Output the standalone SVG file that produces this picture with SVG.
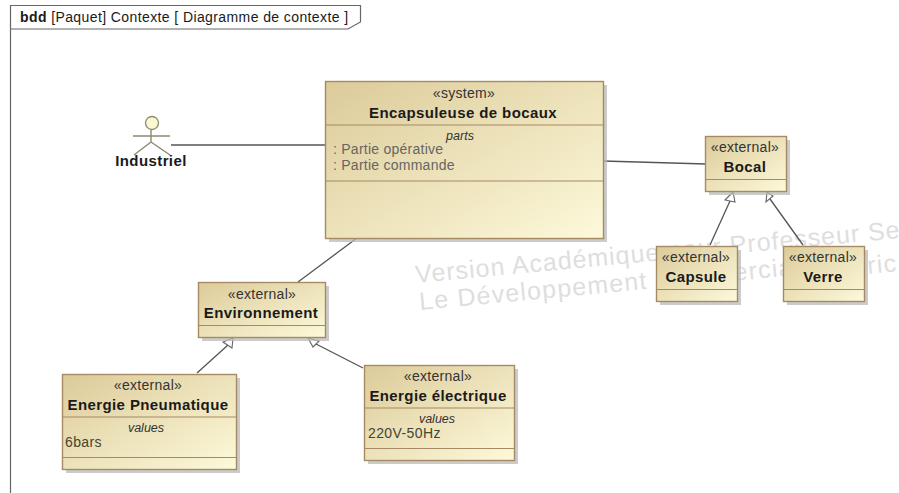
<svg xmlns="http://www.w3.org/2000/svg" width="899" height="493" viewBox="0 0 899 493">
<style>
text{font-family:"Liberation Sans",Arial,sans-serif;fill:#1a1a1a}
.box{fill:url(#g);stroke:#a58a64;stroke-width:1.4}
.sh{fill:#b9b9b9;opacity:.75}
.sep{stroke:#a58a64;stroke-width:1.2;fill:none}
.st{font-size:14px;letter-spacing:.3px;text-anchor:middle;fill:#333}
.nm{font-size:15px;letter-spacing:.4px;font-weight:bold;text-anchor:middle}
.cm{font-size:12.500px;font-style:italic;text-anchor:middle;fill:#333}
.it{font-size:14px;letter-spacing:.25px;fill:#666}
.it2{font-size:14px;letter-spacing:.4px;fill:#443}
.ln{stroke:#555;stroke-width:1.3;fill:none}
.wm{font-size:25px;fill:#dedede;letter-spacing:1.2px}
.ar{fill:#fff;stroke:#666;stroke-width:1.1}
.act{stroke:#8a8a70;stroke-width:1.4;fill:none}
</style>
<defs>
<linearGradient id="g" x1="0" y1="0" x2="1" y2="1">
<stop offset="0" stop-color="#dccb9a"/><stop offset="1" stop-color="#fdf9da"/>
</linearGradient>
</defs>
<rect width="899" height="493" fill="#fff"/>
<g id="frame">
<path d="M10.500 493V5.500H360.500V22L348 29H10.500" fill="none" stroke="#666" stroke-width="1.2"/>
<text x="20" y="22" font-size="14" letter-spacing=".4" xml:space="preserve"><tspan font-weight="bold">bdd</tspan> [Paquet] Contexte [ Diagramme de contexte ]</text>
</g>
<g id="watermark">
<text class="wm" letter-spacing="1" style="letter-spacing:1px" transform="translate(416 283) rotate(-5.300)">Version Académique pour Professeur Se</text>
<text class="wm" transform="translate(420 310) rotate(-5.300)">Le Développement Commercial</text>
<text class="wm" transform="translate(868 274) rotate(-5.300)">ric</text>
</g>
<g id="connectors">
<path class="ln" d="M171 145H325"/>
<path class="ln" d="M603 161L706 164"/>
<path class="ln" d="M357 238L298 282"/>
<path class="ln" d="M197 373L228 345"/>
<path class="ln" d="M363 368L316 344"/>
<path class="ln" d="M710 245L730 201"/>
<path class="ln" d="M803 245L770 199"/>
<path class="ar" d="M233 338L223 342L232 348Z"/>
<path class="ar" d="M308 338L313 347L319 341Z"/>
<path class="ar" d="M733 192L725 200L735 202Z"/>
<path class="ar" d="M767 192L766 202L773 196Z"/>
</g>
<g id="industriel">
<circle cx="152" cy="123" r="6.500" fill="#fbf8d2" stroke="#8a8a70" stroke-width="1.300"/>
<path class="act" d="M151 130V142M133 136H170M151 142L134 155M151 142L170 155"/>
<text x="151" y="166" class="nm">Industriel</text>
</g>
<g id="encapsuleuse">
<rect class="sh" x="329" y="85" width="278" height="157"/>
<rect class="box" x="325.500" y="81.500" width="278" height="157"/>
<path class="sep" d="M325.500 125H603.500M325.500 181H603.500"/>
<text x="464" y="98" class="st">«system»</text>
<text x="463" y="118" class="nm">Encapsuleuse de bocaux</text>
<text x="460" y="140" class="cm">parts</text>
<text x="333" y="154" class="it">: Partie opérative</text>
<text x="333" y="170" class="it">: Partie commande</text>
</g>
<g id="bocal">
<rect class="sh" x="709" y="140" width="81" height="55"/>
<rect class="box" x="705.500" y="136.500" width="81" height="55"/>
<path class="sep" d="M705.500 179.500H786.500"/>
<text x="745" y="152" class="st">«external»</text>
<text x="745" y="172" class="nm">Bocal</text>
</g>
<g id="capsule">
<rect class="sh" x="660" y="250" width="81" height="55"/>
<rect class="box" x="656.500" y="246.500" width="81" height="55"/>
<path class="sep" d="M656.500 289.500H737.500"/>
<text x="696" y="262" class="st">«external»</text>
<text x="696" y="282" class="nm">Capsule</text>
</g>
<g id="verre">
<rect class="sh" x="787" y="250" width="81" height="55"/>
<rect class="box" x="783.500" y="246.500" width="81" height="55"/>
<path class="sep" d="M783.500 289.500H864.500"/>
<text x="823" y="262" class="st">«external»</text>
<text x="823" y="282" class="nm">Verre</text>
</g>
<g id="environnement">
<rect class="sh" x="202" y="286" width="127" height="55"/>
<rect class="box" x="198.500" y="282.500" width="127" height="55"/>
<path class="sep" d="M198.500 325.500H325.500"/>
<text x="262" y="299" class="st">«external»</text>
<text x="261" y="318" class="nm">Environnement</text>
</g>
<g id="pneumatique">
<rect class="sh" x="66" y="378" width="174" height="95"/>
<rect class="box" x="62.500" y="374.500" width="174" height="95"/>
<path class="sep" d="M62.500 417H236.500M62.500 457.500H236.500"/>
<text x="148" y="390" class="st">«external»</text>
<text x="148" y="410" class="nm">Energie Pneumatique</text>
<text x="146" y="432" class="cm">values</text>
<text x="65" y="447" class="it2">6bars</text>
</g>
<g id="electrique">
<rect class="sh" x="368" y="369" width="150" height="95"/>
<rect class="box" x="364.500" y="365.500" width="150" height="95"/>
<path class="sep" d="M364.500 408H514.500M364.500 448.500H514.500"/>
<text x="438" y="381" class="st">«external»</text>
<text x="438" y="401" class="nm">Energie électrique</text>
<text x="437" y="423" class="cm">values</text>
<text x="368" y="438" class="it2">220V-50Hz</text>
</g>
</svg>
